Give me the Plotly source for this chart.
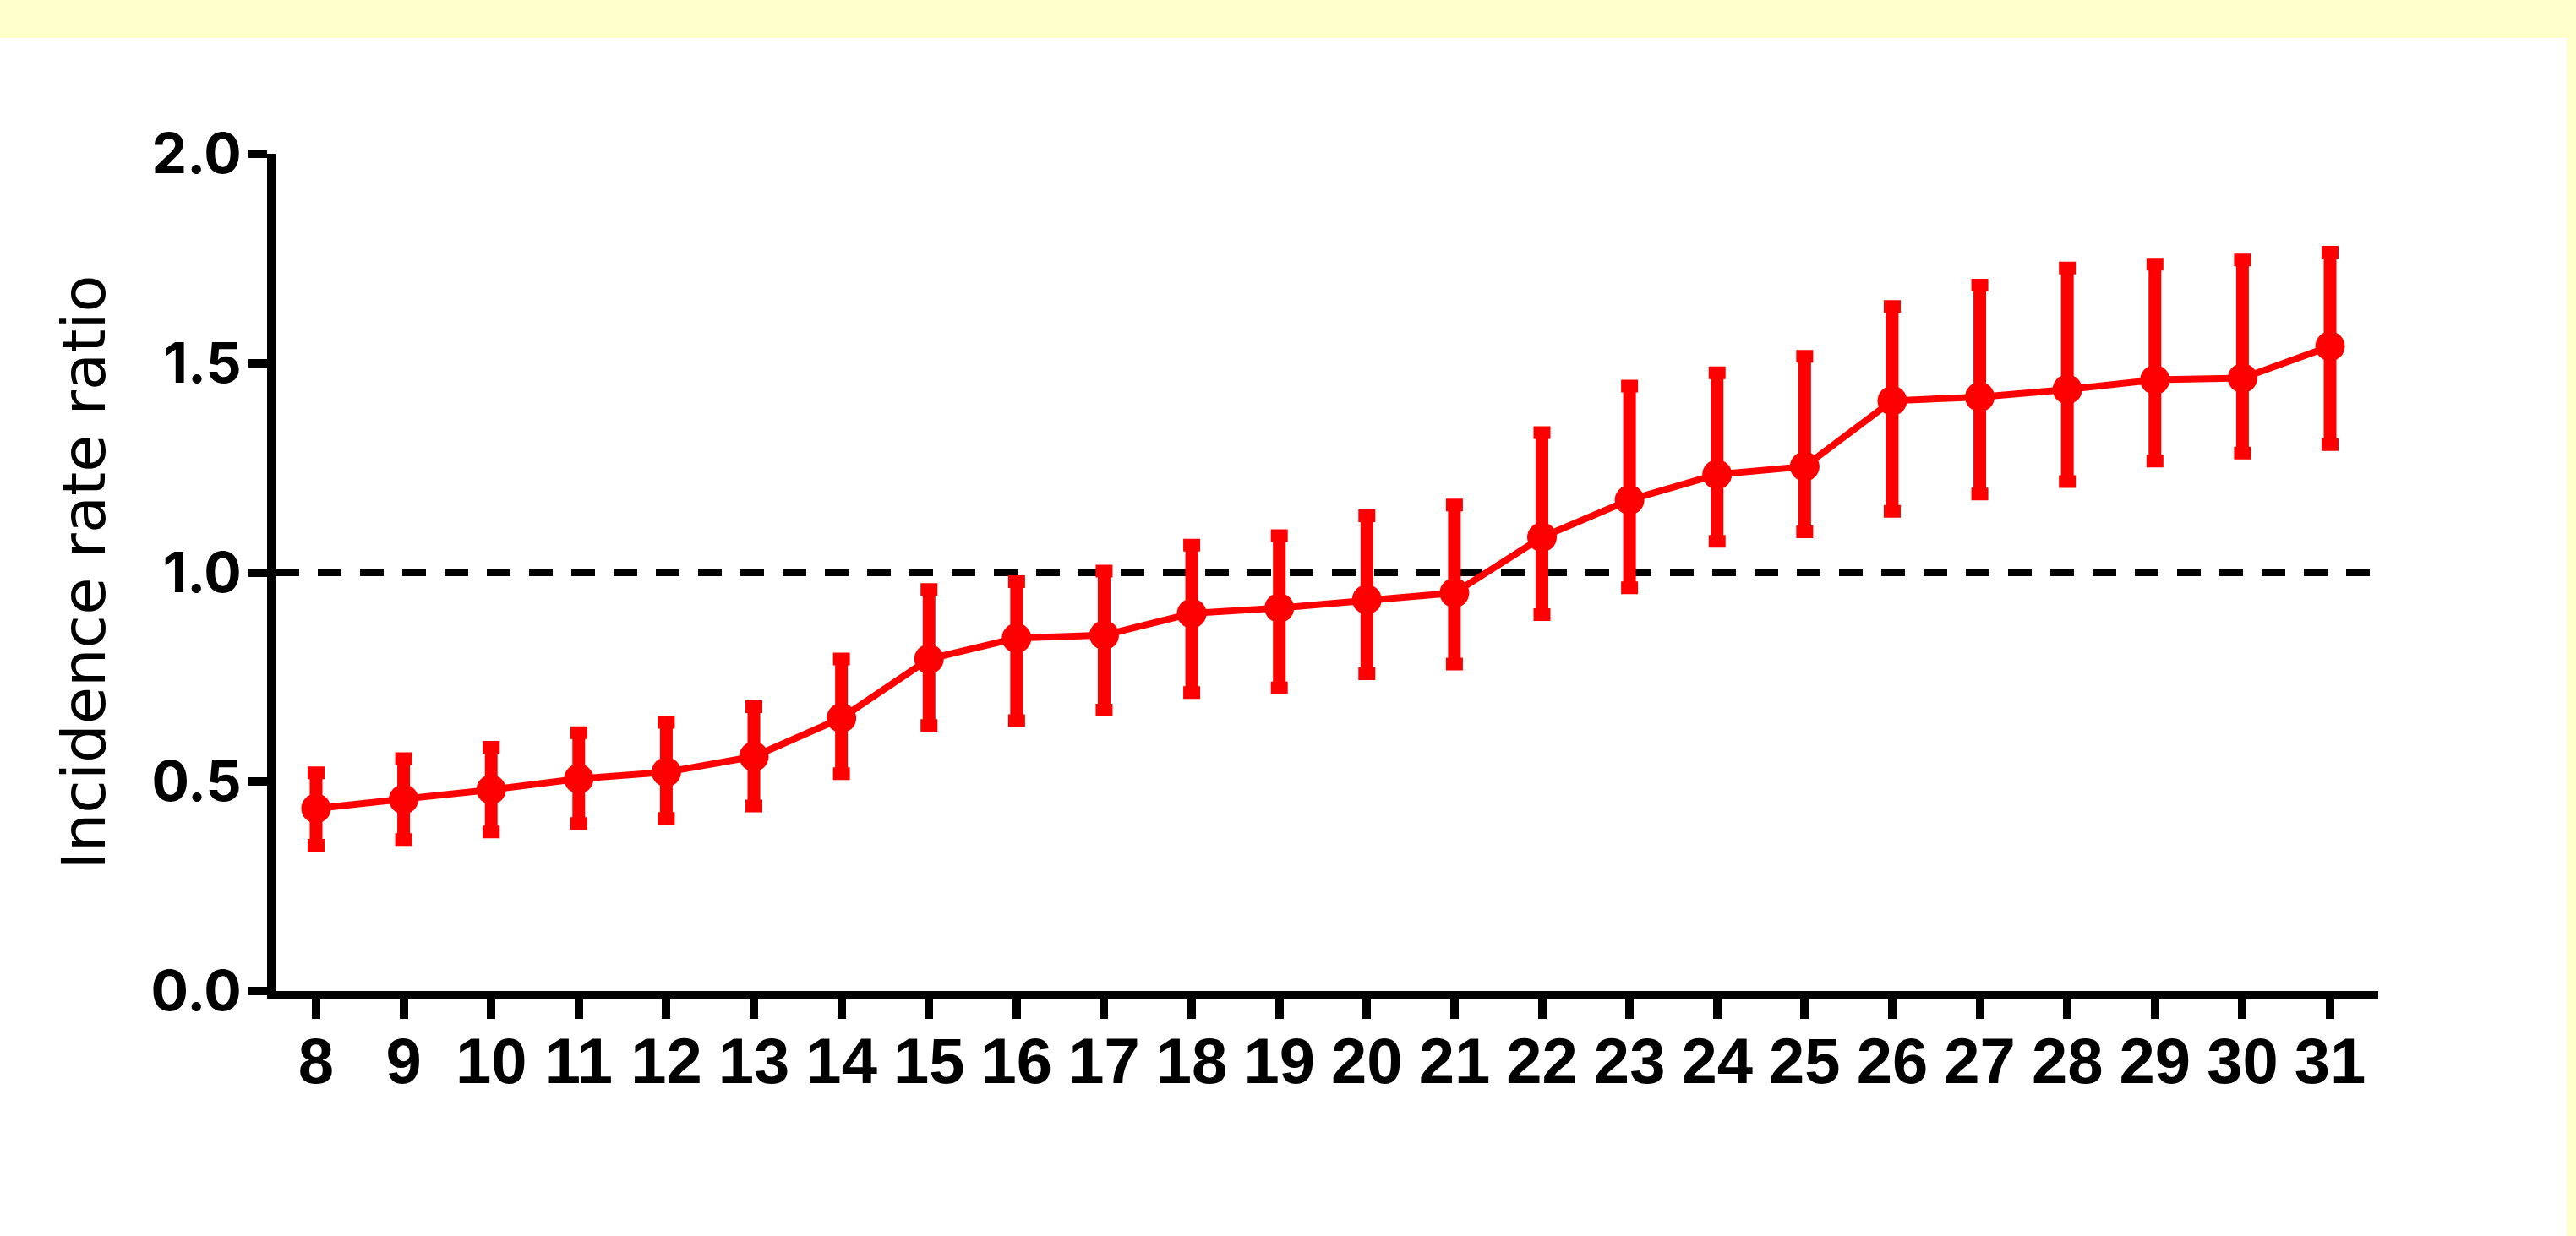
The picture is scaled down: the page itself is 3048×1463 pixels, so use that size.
import plotly.graph_objects as go

# ---- data ----
age = [8, 9, 10, 11, 12, 13, 14, 15, 16, 17, 18, 19,
       20, 21, 22, 23, 24, 25, 26, 27, 28, 29, 30, 31]
age_labels = ["8", "9", "10", "11", "12", "13", "14", "15", "16", "17", "18", "19",
              "20", "21", "22", "23", "24", "25", "26", "27", "28", "29", "30", "31"]
irr = [0.436, 0.458, 0.481, 0.507, 0.523, 0.560, 0.652, 0.793, 0.843, 0.850, 0.902, 0.915,
       0.935, 0.951, 1.084, 1.173, 1.234, 1.253, 1.410, 1.419, 1.437, 1.460, 1.464, 1.540]
ci_upper = [0.521, 0.555, 0.582, 0.617, 0.642, 0.679, 0.793, 0.959, 0.978, 1.003, 1.065, 1.088,
            1.135, 1.161, 1.334, 1.445, 1.477, 1.516, 1.635, 1.686, 1.727, 1.736, 1.746, 1.765]
ci_lower = [0.348, 0.362, 0.380, 0.400, 0.412, 0.442, 0.519, 0.634, 0.646, 0.671, 0.713, 0.724,
            0.758, 0.781, 0.899, 0.963, 1.074, 1.097, 1.146, 1.187, 1.217, 1.266, 1.285, 1.305]
y_tickvals = [0.0, 0.5, 1.0, 1.5, 2.0]
y_ticktext = ["0.0", "0.5", "1.0", "1.5", "2.0"]
reference_value = 1.0
y_title = "Incidence rate ratio"

err_plus = [u - v for u, v in zip(ci_upper, irr)]
err_minus = [v - l for v, l in zip(irr, ci_lower)]

RED = "#FF0000"
YELLOW = "#FFFFCC"

fig = go.Figure()
fig.add_trace(go.Scatter(
    x=age, y=irr,
    mode="lines+markers",
    line=dict(color=RED, width=8),
    marker=dict(color=RED, size=35, symbol="circle"),
    error_y=dict(type="data", symmetric=False, array=err_plus, arrayminus=err_minus,
                 color=RED, thickness=15, width=10),
    showlegend=False,
))

W, H = 3048, 1463
L, R, T, B = 326, 234, 182, 290
pw, ph = W - L - R, H - T - B

def px_to_paper_x(px):
    return (px - L) / pw

def px_to_paper_y(py):
    return (H - B - py) / ph

shapes = [
    # dashed reference line
    dict(type="line", xref="paper", yref="y", x0=0, x1=1, y0=reference_value, y1=reference_value,
         line=dict(color="black", width=9, dash="28px,22px"), layer="below"),
    # yellow frame: top band and right band
    dict(type="rect", xref="paper", yref="paper",
         x0=px_to_paper_x(0), x1=px_to_paper_x(W), y0=px_to_paper_y(45), y1=px_to_paper_y(0),
         fillcolor=YELLOW, line=dict(width=0), layer="above"),
    dict(type="rect", xref="paper", yref="paper",
         x0=px_to_paper_x(3037), x1=px_to_paper_x(W), y0=px_to_paper_y(H), y1=px_to_paper_y(0),
         fillcolor=YELLOW, line=dict(width=0), layer="above"),
]

fig.update_layout(
    width=W, height=H, autosize=False,
    margin=dict(l=L, r=R, t=T, b=B, pad=0),
    paper_bgcolor="white", plot_bgcolor="white",
    shapes=shapes,
    font=dict(family="Liberation Sans, Arial, sans-serif", color="black"),
    xaxis=dict(
        range=[7.537, 31.55],
        tickvals=age, ticktext=age_labels,
        showgrid=False, zeroline=False,
        showline=True, linecolor="black", linewidth=10,
        ticks="outside", ticklen=23, tickwidth=10, tickcolor="black",
        tickfont=dict(family="Liberation Sans, Arial, sans-serif", size=76, weight="bold", color="black"),
        ticklabelstandoff=-15,
    ),
    yaxis=dict(
        range=[0, 2],
        tickvals=y_tickvals, ticktext=y_ticktext,
        showgrid=False, zeroline=False,
        showline=True, linecolor="black", linewidth=10,
        ticks="outside", ticklen=22, tickwidth=10, tickcolor="black",
        tickfont=dict(family="Inter, Liberation Sans, sans-serif", size=66, weight="bold", color="black"),
        ticklabelstandoff=-5,
        title=dict(text=y_title, standoff=34,
                   font=dict(family="DejaVu Sans, sans-serif", size=72, color="black")),
    ),
)

fig.write_html("out.html")
